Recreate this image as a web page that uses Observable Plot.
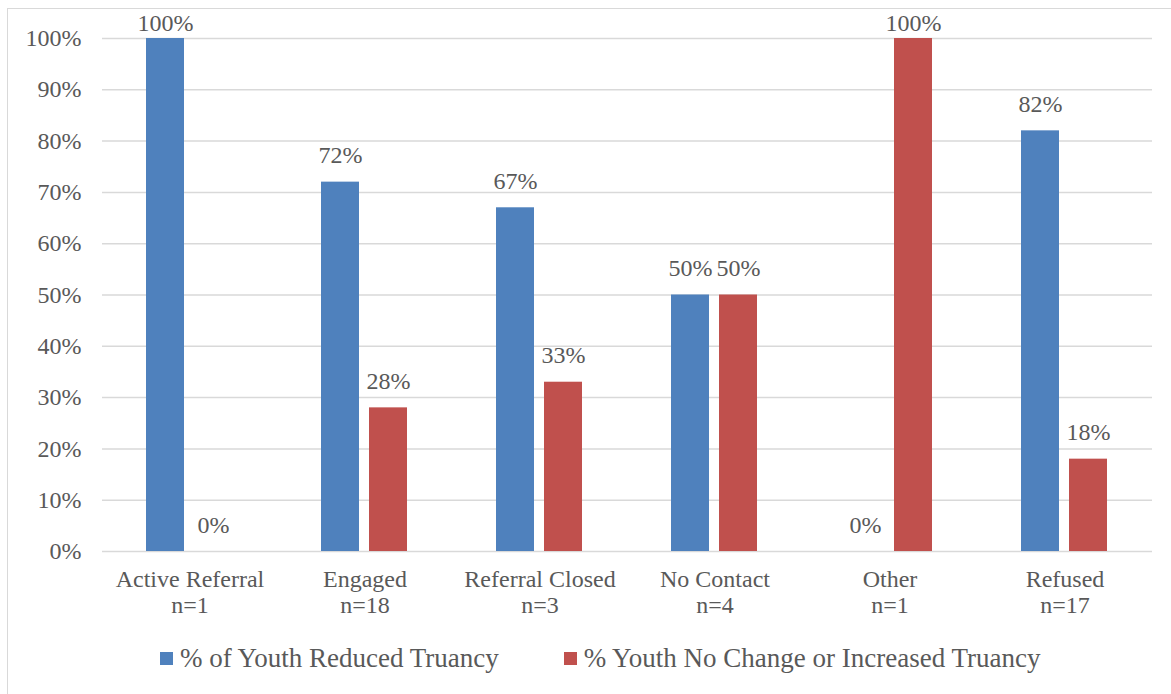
<!DOCTYPE html>
<html>
<head>
<meta charset="utf-8">
<script src="https://cdn.jsdelivr.net/npm/d3@7"></script>
<script src="https://cdn.jsdelivr.net/npm/@observablehq/plot@0.6"></script>
<style>
  html, body { margin: 0; padding: 0; background: #fff; overflow: hidden; }
  #frame {
    position: relative; width: 1171px; height: 694px; overflow: hidden;
    font-family: "Liberation Serif", "Times New Roman", serif; color: #595959;
  }
  #border {
    position: absolute; left: 7px; top: 8px; width: 1200px; height: 720px;
    border: 1.5px solid #d9d9d9; box-sizing: border-box;
  }
  #chart { position: absolute; left: 0; top: 0; }
  #chart svg, #chart svg text { font-family: "Liberation Serif", "Times New Roman", serif !important; }
  #legend {
    position: absolute; left: 160px; top: 643px; display: flex; align-items: center;
    font-size: 27px; white-space: nowrap;
  }
  .sw { display: inline-block; width: 13px; height: 13px; margin-right: 7px; }
  .item { display: flex; align-items: center; }
</style>
</head>
<body>
<div id="frame">
  <div id="border"></div>
  <div id="chart"></div>
  <div id="legend"></div>
</div>
<script>
// Referral outcome categories and their group sizes
const categories = ["Active Referral", "Engaged", "Referral Closed", "No Contact", "Other", "Refused"];
const groupSizes = [1, 18, 3, 4, 1, 17];

// Series names and colours
const seriesNames = ["% of Youth Reduced Truancy", "% Youth No Change or Increased Truancy"];
const seriesColors = ["#4F81BD", "#C0504D"];

// Percent of youth in each category, per series
const reducedTruancy = [100, 72, 67, 50, 0, 82];
const noChangeOrIncreased = [0, 28, 33, 50, 100, 18];

// Y axis ticks
const yTicks = [0, 10, 20, 30, 40, 50, 60, 70, 80, 90, 100];

const rows = [];
categories.forEach((c, i) => {
  rows.push({category: c, series: seriesNames[0], value: reducedTruancy[i]});
  rows.push({category: c, series: seriesNames[1], value: noChangeOrIncreased[i]});
});
const nByCategory = new Map(categories.map((c, i) => [c, groupSizes[i]]));

const font = '"Liberation Serif", "Times New Roman", serif';
const textColor = "#595959";
const fs = 24;

const chart = Plot.plot({
  width: 1171,
  height: 625,
  marginLeft: 101,
  marginRight: 19,
  marginTop: 38,
  marginBottom: 74,
  style: {fontFamily: font, fontSize: fs + "px", color: textColor, background: "transparent", overflow: "visible"},
  fx: {domain: categories, padding: 0},
  x: {domain: seriesNames, paddingInner: 0.204, paddingOuter: 0.89, axis: null},
  y: {domain: [0, 100], axis: null},
  color: {domain: seriesNames, range: seriesColors},
  marks: [
    Plot.gridY(yTicks, {stroke: "#d9d9d9", strokeOpacity: 1, strokeWidth: 1.5}),
    Plot.axisY({
      ticks: yTicks, tickFormat: d => d + "%", tickSize: 0, tickPadding: 21, label: null,
      fontSize: fs, fontFamily: font, fill: textColor, facetAnchor: "left"
    }),
    Plot.axisFx({
      anchor: "bottom", tickFormat: c => `${c}\nn=${nByCategory.get(c)}`, tickSize: 0, tickPadding: 17,
      lineHeight: 1.08, fontSize: fs, fontFamily: font, fill: textColor, label: null
    }),
    Plot.barY(rows, {fx: "category", x: "series", y: "value", fill: "series"}),
    // Labels above bars; full-height bars keep their label inside the plot area
    Plot.text(rows.filter(d => d.value < 100), {
      fx: "category", x: "series", y: "value", text: d => d.value + "%",
      lineAnchor: "bottom", dy: -19, fill: textColor, fontSize: fs, fontFamily: font
    }),
    Plot.text(rows.filter(d => d.value >= 100), {
      fx: "category", x: "series", y: "value", text: d => d.value + "%",
      lineAnchor: "bottom", dy: -8, fill: textColor, fontSize: fs, fontFamily: font
    })
  ]
});
document.getElementById("chart").appendChild(chart);

// Legend below the plot
const legend = document.getElementById("legend");
seriesNames.forEach((name, i) => {
  const item = document.createElement("span");
  item.className = "item";
  if (i > 0) item.style.marginLeft = "65px";
  const sw = document.createElement("span");
  sw.className = "sw";
  sw.style.background = seriesColors[i];
  item.appendChild(sw);
  item.appendChild(document.createTextNode(name));
  legend.appendChild(item);
});
</script>
</body>
</html>
